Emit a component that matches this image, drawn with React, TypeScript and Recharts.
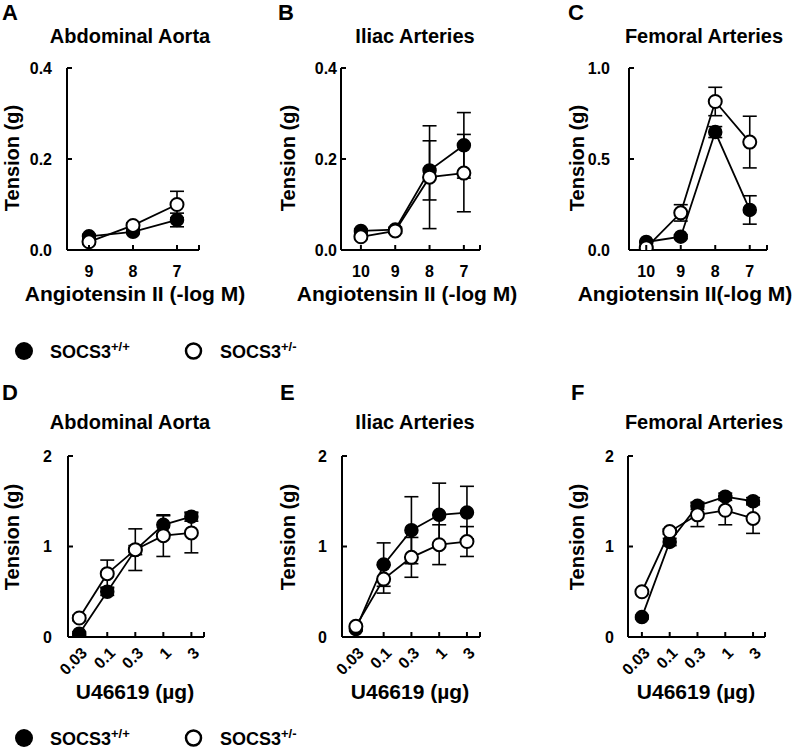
import React from 'react';
import { LineChart, Line, XAxis, YAxis, ErrorBar } from 'recharts';

const FONT = '"Liberation Sans", Arial, Helvetica, sans-serif';

// x tick labels
const angTicksAorta = ['9', '8', '7'];
const angTicksIliacFem = ['10', '9', '8', '7'];
const u466Ticks = ['0.03', '0.1', '0.3', '1', '3'];

// Angiotensin II responses (g), mean and SEM
const aoAngWt = [0.03, 0.04, 0.066];
const aoAngWtSem = [0.004, 0.004, 0.015];
const aoAngHet = [0.018, 0.054, 0.1];
const aoAngHetSem = [0.004, 0.006, 0.029];

const ilAngWt = [0.042, 0.045, 0.175, 0.23];
const ilAngWtSem = [0.004, 0.005, 0.065, 0.072];
const ilAngHet = [0.029, 0.042, 0.16, 0.169];
const ilAngHetSem = [0.004, 0.005, 0.113, 0.085];

const feAngWt = [0.044, 0.073, 0.648, 0.22];
const feAngWtSem = [0.005, 0.01, 0.03, 0.078];
const feAngHet = [0.013, 0.204, 0.816, 0.593];
const feAngHetSem = [0.005, 0.045, 0.078, 0.142];

// U46619 responses (g)
const aoUWt = [0.037, 0.5, 0.96, 1.24, 1.33];
const aoUWtSem = [0.02, 0.04, 0.05, 0.1, 0.05];
const aoUHet = [0.21, 0.7, 0.965, 1.12, 1.15];
const aoUHetSem = [0.03, 0.15, 0.23, 0.23, 0.22];

const ilUWt = [0.088, 0.8, 1.18, 1.35, 1.375];
const ilUWtSem = [0.02, 0.24, 0.37, 0.35, 0.29];
const ilUHet = [0.118, 0.64, 0.88, 1.02, 1.055];
const ilUHetSem = [0.02, 0.155, 0.22, 0.22, 0.165];

const feUWt = [0.22, 1.05, 1.45, 1.55, 1.5];
const feUWtSem = [0.02, 0.04, 0.04, 0.04, 0.04];
const feUHet = [0.5, 1.165, 1.35, 1.4, 1.31];
const feUHetSem = [0.02, 0.03, 0.13, 0.16, 0.165];

const rows = (labels: string[], wt: number[], wtSem: number[], het: number[], hetSem: number[]) =>
  labels.map((_, i) => ({ i, wt: wt[i], wtSem: wtSem[i], het: het[i], hetSem: hetSem[i] }));

const Y_AXIS_W = 30;
const X_AXIS_H = 40;
const TICK_FS = 16;

type Panel = {
  left: number; top: number; width: number; height: number;
  x0: number; x1: number; y0: number; y1: number;
  labels: string[];
  data: any[];
  xDomain: [number, number];
  yMax: number; yTicks: number[]; yDec: number; yGap: number;
  rotated: boolean;
  xLabel: string; xLabelX: number; xLabelY: number;
  yLabelX: number; yLabelY: number;
};

const ChartPanel = (p: Panel) => {
  const margin = {
    left: p.x0 - p.left - Y_AXIS_W,
    right: p.left + p.width - p.x1,
    top: p.y0 - p.top,
    bottom: p.top + p.height - p.y1 - X_AXIS_H,
  };
  const xTick = (props: any) => {
    const { x, y, payload } = props;
    const label = p.labels[payload.value] ?? '';
    const ax = x + 5;
    const ay = y + 13;
    return (
      <g>
        <line x1={x} x2={x} y1={y} y2={y - 5} stroke="#000" strokeWidth={2} />
        {p.rotated ? (
          <text x={ax} y={ay} dy="0.35em" transform={`rotate(-45 ${ax} ${ay})`} textAnchor="end"
            fontSize={TICK_FS} fontWeight="bold" fontFamily={FONT} fill="#000">{label}</text>
        ) : (
          <text x={x} y={y + 27} textAnchor="middle" fontSize={TICK_FS} fontWeight="bold" fontFamily={FONT} fill="#000">{label}</text>
        )}
      </g>
    );
  };
  const yTick = (props: any) => {
    const { x, y, payload } = props;
    return (
      <g>
        <line x1={x} x2={x + 5} y1={y} y2={y} stroke="#000" strokeWidth={2} />
        <text x={x - p.yGap} y={y} dy="0.36em" textAnchor="end" fontSize={TICK_FS} fontWeight="bold" fontFamily={FONT} fill="#000">
          {Number(payload.value).toFixed(p.yDec)}
        </text>
      </g>
    );
  };
  const xLabel = () => (
    <text x={p.xLabelX - p.left} y={p.xLabelY - p.top} textAnchor="middle" fontSize={21} fontWeight="bold" fontFamily={FONT} fill="#000">
      {p.xLabel}
    </text>
  );
  const yLabel = () => {
    const cx = p.yLabelX - p.left;
    const cy = p.yLabelY - p.top;
    return (
      <text x={cx} y={cy} dy="0.35em" transform={`rotate(-90 ${cx} ${cy})`} textAnchor="middle" fontSize={20} fontWeight="bold" fontFamily={FONT} fill="#000">
        Tension (g)
      </text>
    );
  };
  const xTicks = [...p.labels.map((_, i) => i), p.xDomain[1]];
  return (
    <div style={{ position: 'absolute', left: p.left, top: p.top }}>
      <LineChart width={p.width} height={p.height} data={p.data} margin={margin}>
        <XAxis type="number" dataKey="i" domain={p.xDomain} allowDataOverflow ticks={xTicks} interval={0}
          height={X_AXIS_H} tickSize={0} tickMargin={0} tickLine={false} tick={xTick}
          axisLine={{ stroke: '#000', strokeWidth: 2 }} label={{ content: xLabel }} />
        <YAxis type="number" domain={[0, p.yMax]} allowDataOverflow ticks={p.yTicks} interval={0}
          width={Y_AXIS_W} tickSize={0} tickMargin={0} tickLine={false} tick={yTick}
          axisLine={{ stroke: '#000', strokeWidth: 2 }} label={{ content: yLabel }} />
        <Line dataKey="wt" stroke="#000" strokeWidth={1.8} isAnimationActive={false}
          dot={{ r: 6.5, fill: '#000', stroke: '#000', strokeWidth: 1.5 }} activeDot={false}>
          <ErrorBar dataKey="wtSem" direction="y" width={7} stroke="#000" strokeWidth={1.6} isAnimationActive={false} />
        </Line>
        <Line dataKey="het" stroke="#000" strokeWidth={1.8} isAnimationActive={false}
          dot={{ r: 6.5, fill: '#fff', stroke: '#000', strokeWidth: 2 }} activeDot={false}>
          <ErrorBar dataKey="hetSem" direction="y" width={7} stroke="#000" strokeWidth={1.6} isAnimationActive={false} />
        </Line>
      </LineChart>
    </div>
  );
};

const top = { top: 0, height: 320, y0: 68, y1: 250, rotated: false, xLabelY: 301, yLabelY: 158 };
const bot = { top: 370, height: 340, y0: 456, y1: 637, rotated: true, xLabelY: 699, yLabelY: 537, yMax: 2, yTicks: [0, 1, 2], yDec: 0 };

const panels: Panel[] = [
  { ...top, left: 0, width: 262, x0: 67, x1: 199, labels: angTicksAorta, xDomain: [-0.5, 2.5],
    data: rows(angTicksAorta, aoAngWt, aoAngWtSem, aoAngHet, aoAngHetSem),
    yMax: 0.4, yTicks: [0, 0.2, 0.4], yDec: 1, yGap: 15,
    xLabel: 'Angiotensin II (-log M)', xLabelX: 135, yLabelX: 12 },
  { ...top, left: 262, width: 268, x0: 341, x1: 480, labels: angTicksIliacFem, xDomain: [-0.58, 3.47],
    data: rows(angTicksIliacFem, ilAngWt, ilAngWtSem, ilAngHet, ilAngHetSem),
    yMax: 0.4, yTicks: [0, 0.2, 0.4], yDec: 1, yGap: 4,
    xLabel: 'Angiotensin II (-log M)', xLabelX: 407, yLabelX: 288 },
  { ...top, left: 530, width: 266, x0: 629, x1: 767, labels: angTicksIliacFem, xDomain: [-0.5, 3.5],
    data: rows(angTicksIliacFem, feAngWt, feAngWtSem, feAngHet, feAngHetSem),
    yMax: 1, yTicks: [0, 0.5, 1], yDec: 1, yGap: 19,
    xLabel: 'Angiotensin II(-log M)', xLabelX: 685, yLabelX: 577 },
  { ...bot, left: 0, width: 262, x0: 68, x1: 204, labels: u466Ticks, xDomain: [-0.4, 4.45],
    data: rows(u466Ticks, aoUWt, aoUWtSem, aoUHet, aoUHetSem), yGap: 16,
    xLabel: 'U46619 (µg)', xLabelX: 135, yLabelX: 12 },
  { ...bot, left: 262, width: 268, x0: 342, x1: 480, labels: u466Ticks, xDomain: [-0.5, 4.47],
    data: rows(u466Ticks, ilUWt, ilUWtSem, ilUHet, ilUHetSem), yGap: 15,
    xLabel: 'U46619 (µg)', xLabelX: 410, yLabelX: 288 },
  { ...bot, left: 530, width: 266, x0: 628, x1: 765, labels: u466Ticks, xDomain: [-0.5, 4.43],
    data: rows(u466Ticks, feUWt, feUWtSem, feUHet, feUHetSem), yGap: 14,
    xLabel: 'U46619 (µg)', xLabelX: 696, yLabelX: 577 },
];

const letters = [
  { t: 'A', x: 2, y: 20 }, { t: 'B', x: 278, y: 20 }, { t: 'C', x: 568, y: 20 },
  { t: 'D', x: 2, y: 400 }, { t: 'E', x: 280, y: 400 }, { t: 'F', x: 571, y: 400 },
];
const titles = [
  { t: 'Abdominal Aorta', x: 130, y: 43 }, { t: 'Iliac Arteries', x: 415, y: 43 }, { t: 'Femoral Arteries', x: 704, y: 43 },
  { t: 'Abdominal Aorta', x: 130, y: 429 }, { t: 'Iliac Arteries', x: 415, y: 429 }, { t: 'Femoral Arteries', x: 704, y: 429 },
];

const LegendRow = ({ y }: { y: number }) => (
  <g fontFamily={FONT} fontWeight="bold" fill="#000">
    <circle cx={24} cy={y} r={9} fill="#000" />
    <text x={50} y={y + 6.5} fontSize={18}>SOCS3<tspan fontSize={13} dy={-7}>+/+</tspan></text>
    <circle cx={193.5} cy={y} r={7.5} fill="#fff" stroke="#000" strokeWidth={2.5} />
    <text x={220} y={y + 6.5} fontSize={18}>SOCS3<tspan fontSize={13} dy={-7}>+/-</tspan></text>
  </g>
);

export default function App() {
  return (
    <div style={{ position: 'absolute', left: 0, top: 0, width: 796, height: 747, background: '#fff', overflow: 'hidden' }}>
      {panels.map((p, k) => <ChartPanel key={k} {...p} />)}
      <svg width={796} height={747} style={{ position: 'absolute', left: 0, top: 0, pointerEvents: 'none' }}>
        {letters.map((l) => (
          <text key={l.t} x={l.x} y={l.y} fontSize={22} fontWeight="bold" fontFamily={FONT} fill="#000">{l.t}</text>
        ))}
        {titles.map((t, k) => (
          <text key={k} x={t.x} y={t.y} textAnchor="middle" fontSize={20} fontWeight="bold" fontFamily={FONT} fill="#000">{t.t}</text>
        ))}
        <LegendRow y={351} />
        <LegendRow y={738} />
      </svg>
    </div>
  );
}
